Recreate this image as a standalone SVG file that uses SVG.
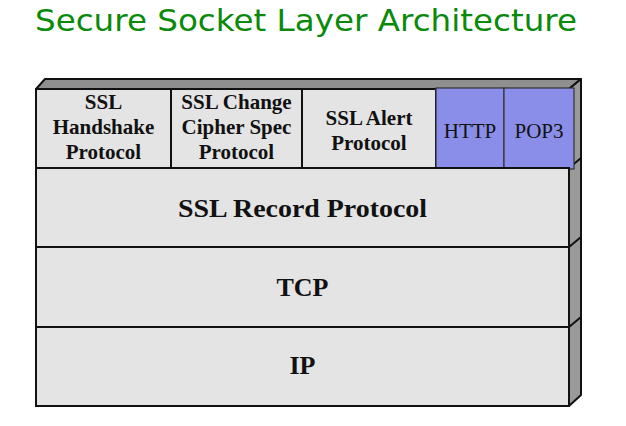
<svg xmlns="http://www.w3.org/2000/svg" width="626" height="426" viewBox="0 0 626 426">
  <style>
    .cell { fill: #e4e4e4; stroke: #111; stroke-width: 2; }
    .app { fill: #8a8ee8; stroke: #333; stroke-width: 1.2; }
    .face-top { fill: #8f8f8f; stroke: #111; stroke-width: 2; stroke-linejoin: round; }
    .face-side { fill: #9a9a9a; stroke: #111; stroke-width: 2; stroke-linejoin: round; }
    .edge { stroke: #111; stroke-width: 2; fill: none; }
    .lbl { font-family: "Liberation Serif", "Times New Roman", serif; font-weight: bold; fill: #111; text-anchor: middle; }
    .sm { font-size: 21px; }
    .lg { font-size: 26px; }
    .app-lbl { font-family: "Liberation Serif", "Times New Roman", serif; font-size: 21px; fill: #111; text-anchor: middle; }
    .title { font-family: "Comic Sans MS", "DejaVu Sans", sans-serif; font-size: 30px; fill: #0a8a0a; }
  </style>

  <text class="title" x="35" y="31" textLength="542" lengthAdjust="spacingAndGlyphs">Secure Socket Layer Architecture</text>

  <!-- 3D faces of the stack -->
  <g id="stack-faces">
    <polygon class="face-top" points="36,89 45,79 581,79 569,89"/>
    <polygon class="face-side" points="569,89 581,79 581,395 569,406"/>
    <line class="edge" x1="569" y1="168" x2="581" y2="158"/>
    <line class="edge" x1="569" y1="247" x2="581" y2="237"/>
    <line class="edge" x1="569" y1="327" x2="581" y2="317"/>
  </g>

  <g id="ssl-handshake">
    <rect class="cell" x="36" y="89" width="135" height="79"/>
    <text class="lbl sm" x="103.5" y="109">SSL</text>
    <text class="lbl sm" x="103.5" y="134">Handshake</text>
    <text class="lbl sm" x="103.5" y="159">Protocol</text>
  </g>

  <g id="ssl-change-cipher">
    <rect class="cell" x="171" y="89" width="131" height="79"/>
    <text class="lbl sm" x="236.5" y="109">SSL Change</text>
    <text class="lbl sm" x="236.5" y="134">Cipher Spec</text>
    <text class="lbl sm" x="236.5" y="159">Protocol</text>
  </g>

  <g id="ssl-alert">
    <rect class="cell" x="302" y="89" width="134" height="79"/>
    <text class="lbl sm" x="369" y="125">SSL Alert</text>
    <text class="lbl sm" x="369" y="150">Protocol</text>
  </g>

  <g id="http">
    <rect class="app" x="436" y="88" width="68" height="81"/>
    <text class="app-lbl" x="470" y="138">HTTP</text>
  </g>

  <g id="pop3">
    <rect class="app" x="504" y="88" width="70" height="81"/>
    <text class="app-lbl" x="539" y="138">POP3</text>
  </g>

  <g id="ssl-record">
    <rect class="cell" x="36" y="168" width="533" height="79"/>
    <text class="lbl lg" x="302.5" y="217" font-size="27" textLength="249" lengthAdjust="spacingAndGlyphs">SSL Record Protocol</text>
  </g>

  <g id="tcp">
    <rect class="cell" x="36" y="247" width="533" height="80"/>
    <text class="lbl lg" x="302.5" y="296">TCP</text>
  </g>

  <g id="ip">
    <rect class="cell" x="36" y="327" width="533" height="79"/>
    <text class="lbl lg" x="302.5" y="374">IP</text>
  </g>
</svg>
